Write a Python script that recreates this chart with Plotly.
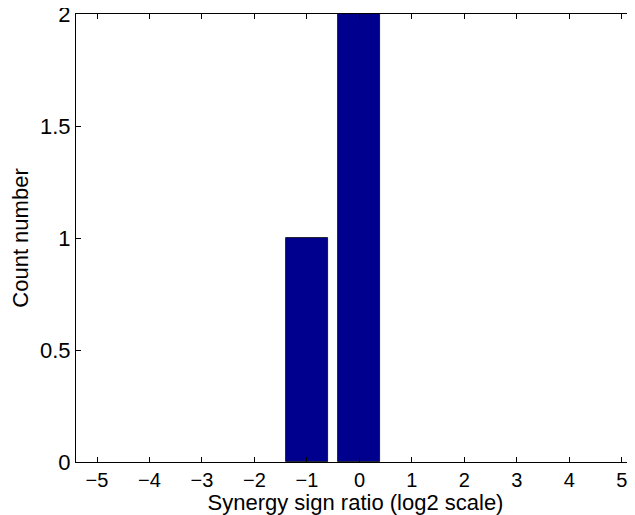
import plotly.graph_objects as go

bin_centers = [-5, -4, -3, -2, -1, 0, 1, 2, 3, 4, 5]
counts = [0, 0, 0, 0, 1, 2, 0, 0, 0, 0, 0]
x_ticks = [-5, -4, -3, -2, -1, 0, 1, 2, 3, 4, 5]
y_ticks = [0, 0.5, 1, 1.5, 2]
y_tick_text = ["0", "0.5", "1", "1.5", "2"]

FONT = "Liberation Sans, Arial, Helvetica, sans-serif"
TICK_FS = 21
TITLE_FS = 22

fig = go.Figure()
fig.add_trace(go.Bar(
    x=bin_centers, y=counts, width=0.8,
    marker=dict(color="#00008F",
                line=dict(color="#000000",
                          width=[0 if c == 0 else 0.8 for c in counts])),
    showlegend=False,
))

# page body has an 8px margin; figure sized so the plot area lands where the reference has it
fig.update_layout(
    width=627, height=507,
    margin=dict(l=68, r=0, t=6, b=53),
    paper_bgcolor="white", plot_bgcolor="white",
    font=dict(family=FONT, size=TICK_FS, color="black"),
    bargap=0,
    xaxis=dict(
        range=[-5.4, 5.25], tickvals=x_ticks,
        ticks="inside", ticklen=5, tickcolor="black", tickwidth=1,
        showline=True, linecolor="black", linewidth=1, mirror="ticks",
        showgrid=False, zeroline=False, automargin=False,
        title=dict(text="Synergy sign ratio (log2 scale)", standoff=0,
                   font=dict(size=TITLE_FS)),
        tickfont=dict(size=20),
    ),
    yaxis=dict(
        range=[0, 2], tickvals=y_ticks, ticktext=y_tick_text,
        ticks="inside", ticklen=5, tickcolor="black", tickwidth=1,
        showline=True, linecolor="black", linewidth=1, mirror=False,
        showgrid=False, zeroline=False, automargin=False,
        ticklabeloverflow="allow",
        title=dict(text="Count number", standoff=6, font=dict(size=TITLE_FS)),
        tickfont=dict(size=22),
    ),
)

fig.write_html("out.html")
